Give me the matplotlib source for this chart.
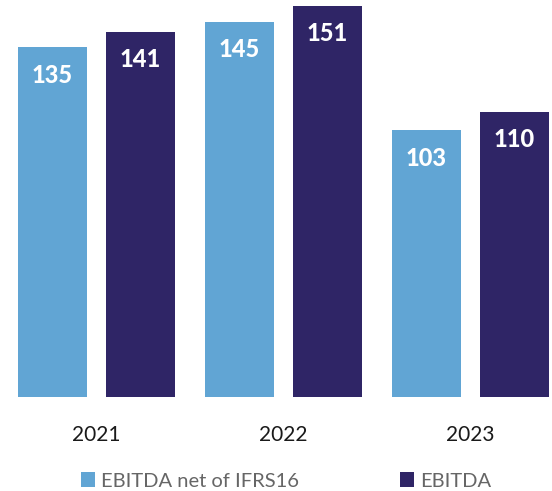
import numpy as np
import matplotlib.pyplot as plt

years = ["2021", "2022", "2023"]
ebitda_net = [135, 145, 103]
ebitda = [141, 151, 110]
series_names = ["EBITDA net of IFRS16", "EBITDA"]

light = "#61a5d4"
dark = "#2f2566"

plt.rcParams["font.family"] = ["Lato", "DejaVu Sans"]

fig = plt.figure(figsize=(5.52, 4.91), dpi=100)
ax = fig.add_axes([0, 94 / 491, 1, 397 / 491])

x = np.arange(len(years))
w = 0.369
off = 0.2353
b1 = ax.bar(x - off, ebitda_net, w, color=light, label=series_names[0])
b2 = ax.bar(x + off, ebitda, w, color=dark, label=series_names[1])

# value labels inside the bars, near the top
for bars, vals in ((b1, ebitda_net), (b2, ebitda)):
    for rect, v in zip(bars, vals):
        ax.annotate(str(v), (rect.get_x() + rect.get_width() / 2, v),
                    xytext=(0, -20), textcoords="offset points",
                    ha="center", va="center", color="white",
                    fontsize=17, fontweight="black")

ax.set_xlim(-96.5 / 187, (552 - 96.5) / 187)
ax.set_ylim(0, 397 / 2.589)
ax.set_xticks(x)
ax.set_xticklabels(years, fontsize=15, color="#1a1a1a")
ax.tick_params(axis="x", length=0, pad=20)
ax.set_yticks([])
for s in ax.spines.values():
    s.set_visible(False)

fig.legend(handles=[b1, b2], loc="center left", bbox_to_anchor=(81 / 552, 1 - 481 / 491),
           ncol=2, frameon=False, labelcolor="#666666",
           prop={"size": 14.5},
           handlelength=0.7, handleheight=0.7, handletextpad=0.3,
           columnspacing=5.0, borderpad=0, borderaxespad=0)

fig.savefig("out.png", dpi=100)
